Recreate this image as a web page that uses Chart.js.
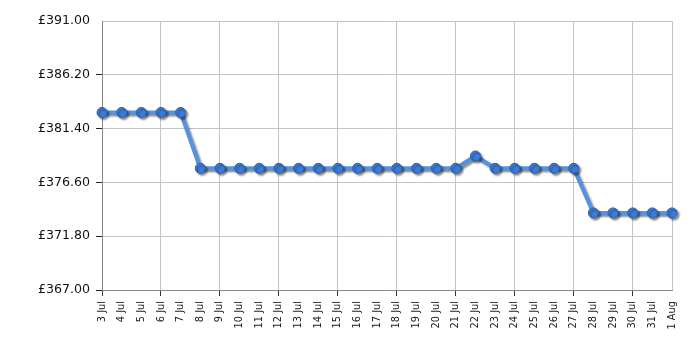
<!DOCTYPE html>
<html>
<head>
<meta charset="utf-8">
<script src="https://cdn.jsdelivr.net/npm/chart.js@4/dist/chart.umd.min.js"></script>
<style>html,body{margin:0;padding:0;background:#fff;}canvas{display:block;}</style>
</head>
<body>
<canvas id="c" width="700" height="350"></canvas>
<script>
const categories = ["3 Jul","4 Jul","5 Jul","6 Jul","7 Jul","8 Jul","9 Jul","10 Jul","11 Jul","12 Jul","13 Jul","14 Jul","15 Jul","16 Jul","17 Jul","18 Jul","19 Jul","20 Jul","21 Jul","22 Jul","23 Jul","24 Jul","25 Jul","26 Jul","27 Jul","28 Jul","29 Jul","30 Jul","31 Jul","1 Aug"];
const prices = [382.84,382.84,382.84,382.84,382.84,377.86,377.86,377.86,377.86,377.86,377.86,377.86,377.86,377.86,377.86,377.86,377.86,377.86,377.86,378.96,377.86,377.86,377.86,377.86,377.86,373.88,373.88,373.88,373.88,373.88];
const yTicks = [367.00, 371.80, 376.60, 381.40, 386.20, 391.00];

const shadowPlugin = {
  id: 'shadow',
  beforeDatasetDraw(chart) {
    const ctx = chart.ctx;
    ctx.save();
    ctx.shadowColor = 'rgba(0,0,0,0.45)';
    ctx.shadowOffsetX = 2;
    ctx.shadowOffsetY = 2;
    ctx.shadowBlur = 2;
  },
  afterDatasetDraw(chart) {
    chart.ctx.restore();
  }
};

new Chart(document.getElementById('c'), {
  type: 'line',
  data: {
    labels: categories,
    datasets: [{
      data: prices,
      borderColor: '#5592e2',
      borderWidth: 4,
      backgroundColor: '#3b7bd4',
      pointBackgroundColor: '#3c7cd6',
      pointBorderColor: '#2d62ad',
      pointBorderWidth: 1,
      pointRadius: 5,
      tension: 0,
      fill: false,
      clip: false
    }]
  },
  options: {
    responsive: false,
    animation: false,
    devicePixelRatio: 1,
    layout: { padding: { left: 0, top: 21, right: 28, bottom: 0 } },
    plugins: { legend: { display: false }, tooltip: { enabled: false } },
    scales: {
      x: {
        type: 'category',
        offset: false,
        afterFit(s) { s.height = 60; },
        grid: {
          color: (c) => (c.index % 3 === 0 || c.index === categories.length - 1) ? '#c4c4c4' : 'rgba(0,0,0,0)',
          tickColor: (c) => (c.index % 3 === 0) ? '#333333' : 'rgba(0,0,0,0)',
          tickLength: 6,
          lineWidth: 1
        },
        border: { color: '#888888', width: 1 },
        ticks: {
          autoSkip: false,
          minRotation: 90,
          maxRotation: 90,
          padding: 5,
          color: '#1a1a1a',
          font: { family: 'DejaVu Sans', size: 9.8 }
        }
      },
      y: {
        min: 367,
        max: 391,
        afterFit(s) { s.width = 102; },
        afterBuildTicks(s) { s.ticks = yTicks.map(v => ({ value: v })); },
        grid: {
          color: '#c4c4c4',
          tickColor: (c) => (c.index === yTicks.length - 1) ? 'rgba(0,0,0,0)' : '#222222',
          tickLength: 6,
          lineWidth: 1
        },
        border: { color: '#888888', width: 1 },
        ticks: {
          padding: 6,
          color: '#111111',
          font: { family: 'DejaVu Sans', size: 12.6 },
          callback: (v) => '£' + Number(v).toFixed(2)
        }
      }
    }
  },
  plugins: [shadowPlugin]
});
</script>
</body>
</html>
